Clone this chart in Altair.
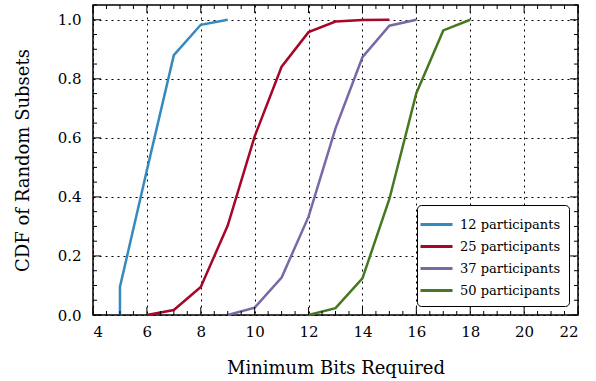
import altair as alt
import pandas as pd
import numpy as np

series_names = ["12 participants", "25 participants", "37 participants", "50 participants"]
colors = ["#348ABD", "#A60628", "#7A68A6", "#467821"]

x12 = [5, 5, 6, 7, 8, 9]
y12 = [0.0, 0.095, 0.49, 0.88, 0.983, 1.0]
x25 = [6, 7, 8, 9, 10, 11, 12, 13, 14, 15]
y25 = [0.0, 0.017, 0.095, 0.303, 0.605, 0.841, 0.958, 0.994, 0.999, 1.0]
x37 = [9, 10, 11, 12, 13, 14, 15, 16]
y37 = [0.0, 0.025, 0.127, 0.333, 0.632, 0.873, 0.980, 1.0]
x50 = [12, 13, 14, 15, 16, 17, 18]
y50 = [0.0, 0.023, 0.124, 0.393, 0.751, 0.964, 1.0]

x_major = list(range(4, 23, 2))
x_minor = [v / 2 for v in range(8, 45)]
y_major = [0.0, 0.2, 0.4, 0.6, 0.8, 1.0]
y_minor = [round(v * 0.05, 2) for v in range(0, 22)]

XMIN, XMAX, YMIN, YMAX = 4, 22, 0.0, 1.05
FONT = "DejaVu Serif"

rows = []
for name, xs, ys in zip(series_names, [x12, x25, x37, x50], [y12, y25, y37, y50]):
    for i, (a, b) in enumerate(zip(xs, ys)):
        rows.append({"series": name, "x": a, "y": b, "i": i})
df = pd.DataFrame(rows)

xs = alt.Scale(domain=[XMIN, XMAX], nice=False, zero=False)
ys = alt.Scale(domain=[YMIN, YMAX], nice=False, zero=False)

W, H = 485, 310
xl_major = 8 * (XMAX - XMIN) / W
xl_minor = 4 * (XMAX - XMIN) / W
yl_major = 8 * (YMAX - YMIN) / H
yl_minor = 4 * (YMAX - YMIN) / H

base = alt.Chart(df).mark_line(strokeWidth=2.5).encode(
    x=alt.X("x:Q", scale=xs,
            axis=alt.Axis(values=x_major, title="Minimum Bits Required", ticks=False,
                          grid=True, gridDash=[2, 4], gridColor="black", gridOpacity=1,
                          labelPadding=9, titlePadding=20, format="d")),
    y=alt.Y("y:Q", scale=ys,
            axis=alt.Axis(values=y_major, title="CDF of Random Subsets", ticks=False,
                          grid=True, gridDash=[2, 4], gridColor="black", gridOpacity=1,
                          labelPadding=12, titlePadding=25, format=".1f")),
    color=alt.Color("series:N", scale=alt.Scale(domain=series_names, range=colors),
                    legend=alt.Legend(title=None)),
    order="i:Q",
)

tx = []
for v in x_minor:
    Ly = yl_major if v in x_major else yl_minor
    tx.append({"x": v, "y": YMIN, "y2": YMIN + Ly})
    tx.append({"x": v, "y": YMAX, "y2": YMAX - Ly})
ty = []
for v in y_minor:
    major = any(abs(v - m) < 1e-9 for m in y_major)
    L = xl_major if major else xl_minor
    ty.append({"y": v, "x": XMIN, "x2": XMIN + L})
    ty.append({"y": v, "x": XMAX, "x2": XMAX - L})

xticks = alt.Chart(pd.DataFrame(tx)).mark_rule(color="black", strokeWidth=1).encode(
    x=alt.X("x:Q", scale=xs), y=alt.Y("y:Q", scale=ys), y2="y2:Q")
yticks = alt.Chart(pd.DataFrame(ty)).mark_rule(color="black", strokeWidth=1).encode(
    y=alt.Y("y:Q", scale=ys), x=alt.X("x:Q", scale=xs), x2="x2:Q")

chart = alt.layer(base, xticks, yticks).properties(
    width=W, height=H,
    autosize=alt.AutoSizeParams(type="none"),
    padding={"left": 93, "top": 5, "right": 18, "bottom": 66},
).configure_view(stroke="black", strokeWidth=1.5).configure_axis(
    labelFont=FONT, titleFont=FONT,
    labelFontSize=15, titleFontSize=18, titleFontWeight="normal",
    labelColor="black", titleColor="black", domain=False,
).configure_legend(
    orient="bottom-right", offset=9, strokeColor="black", cornerRadius=4,
    fillColor="white", padding=8, labelFont=FONT, labelFontSize=13,
    labelColor="black", symbolType="M-1.6,0H1.6", symbolStrokeWidth=3, symbolSize=400,
    symbolFillColor="transparent",
    rowPadding=3, labelOffset=12,
)

chart.save("out.html", embed_options={"renderer": "svg", "actions": False})
